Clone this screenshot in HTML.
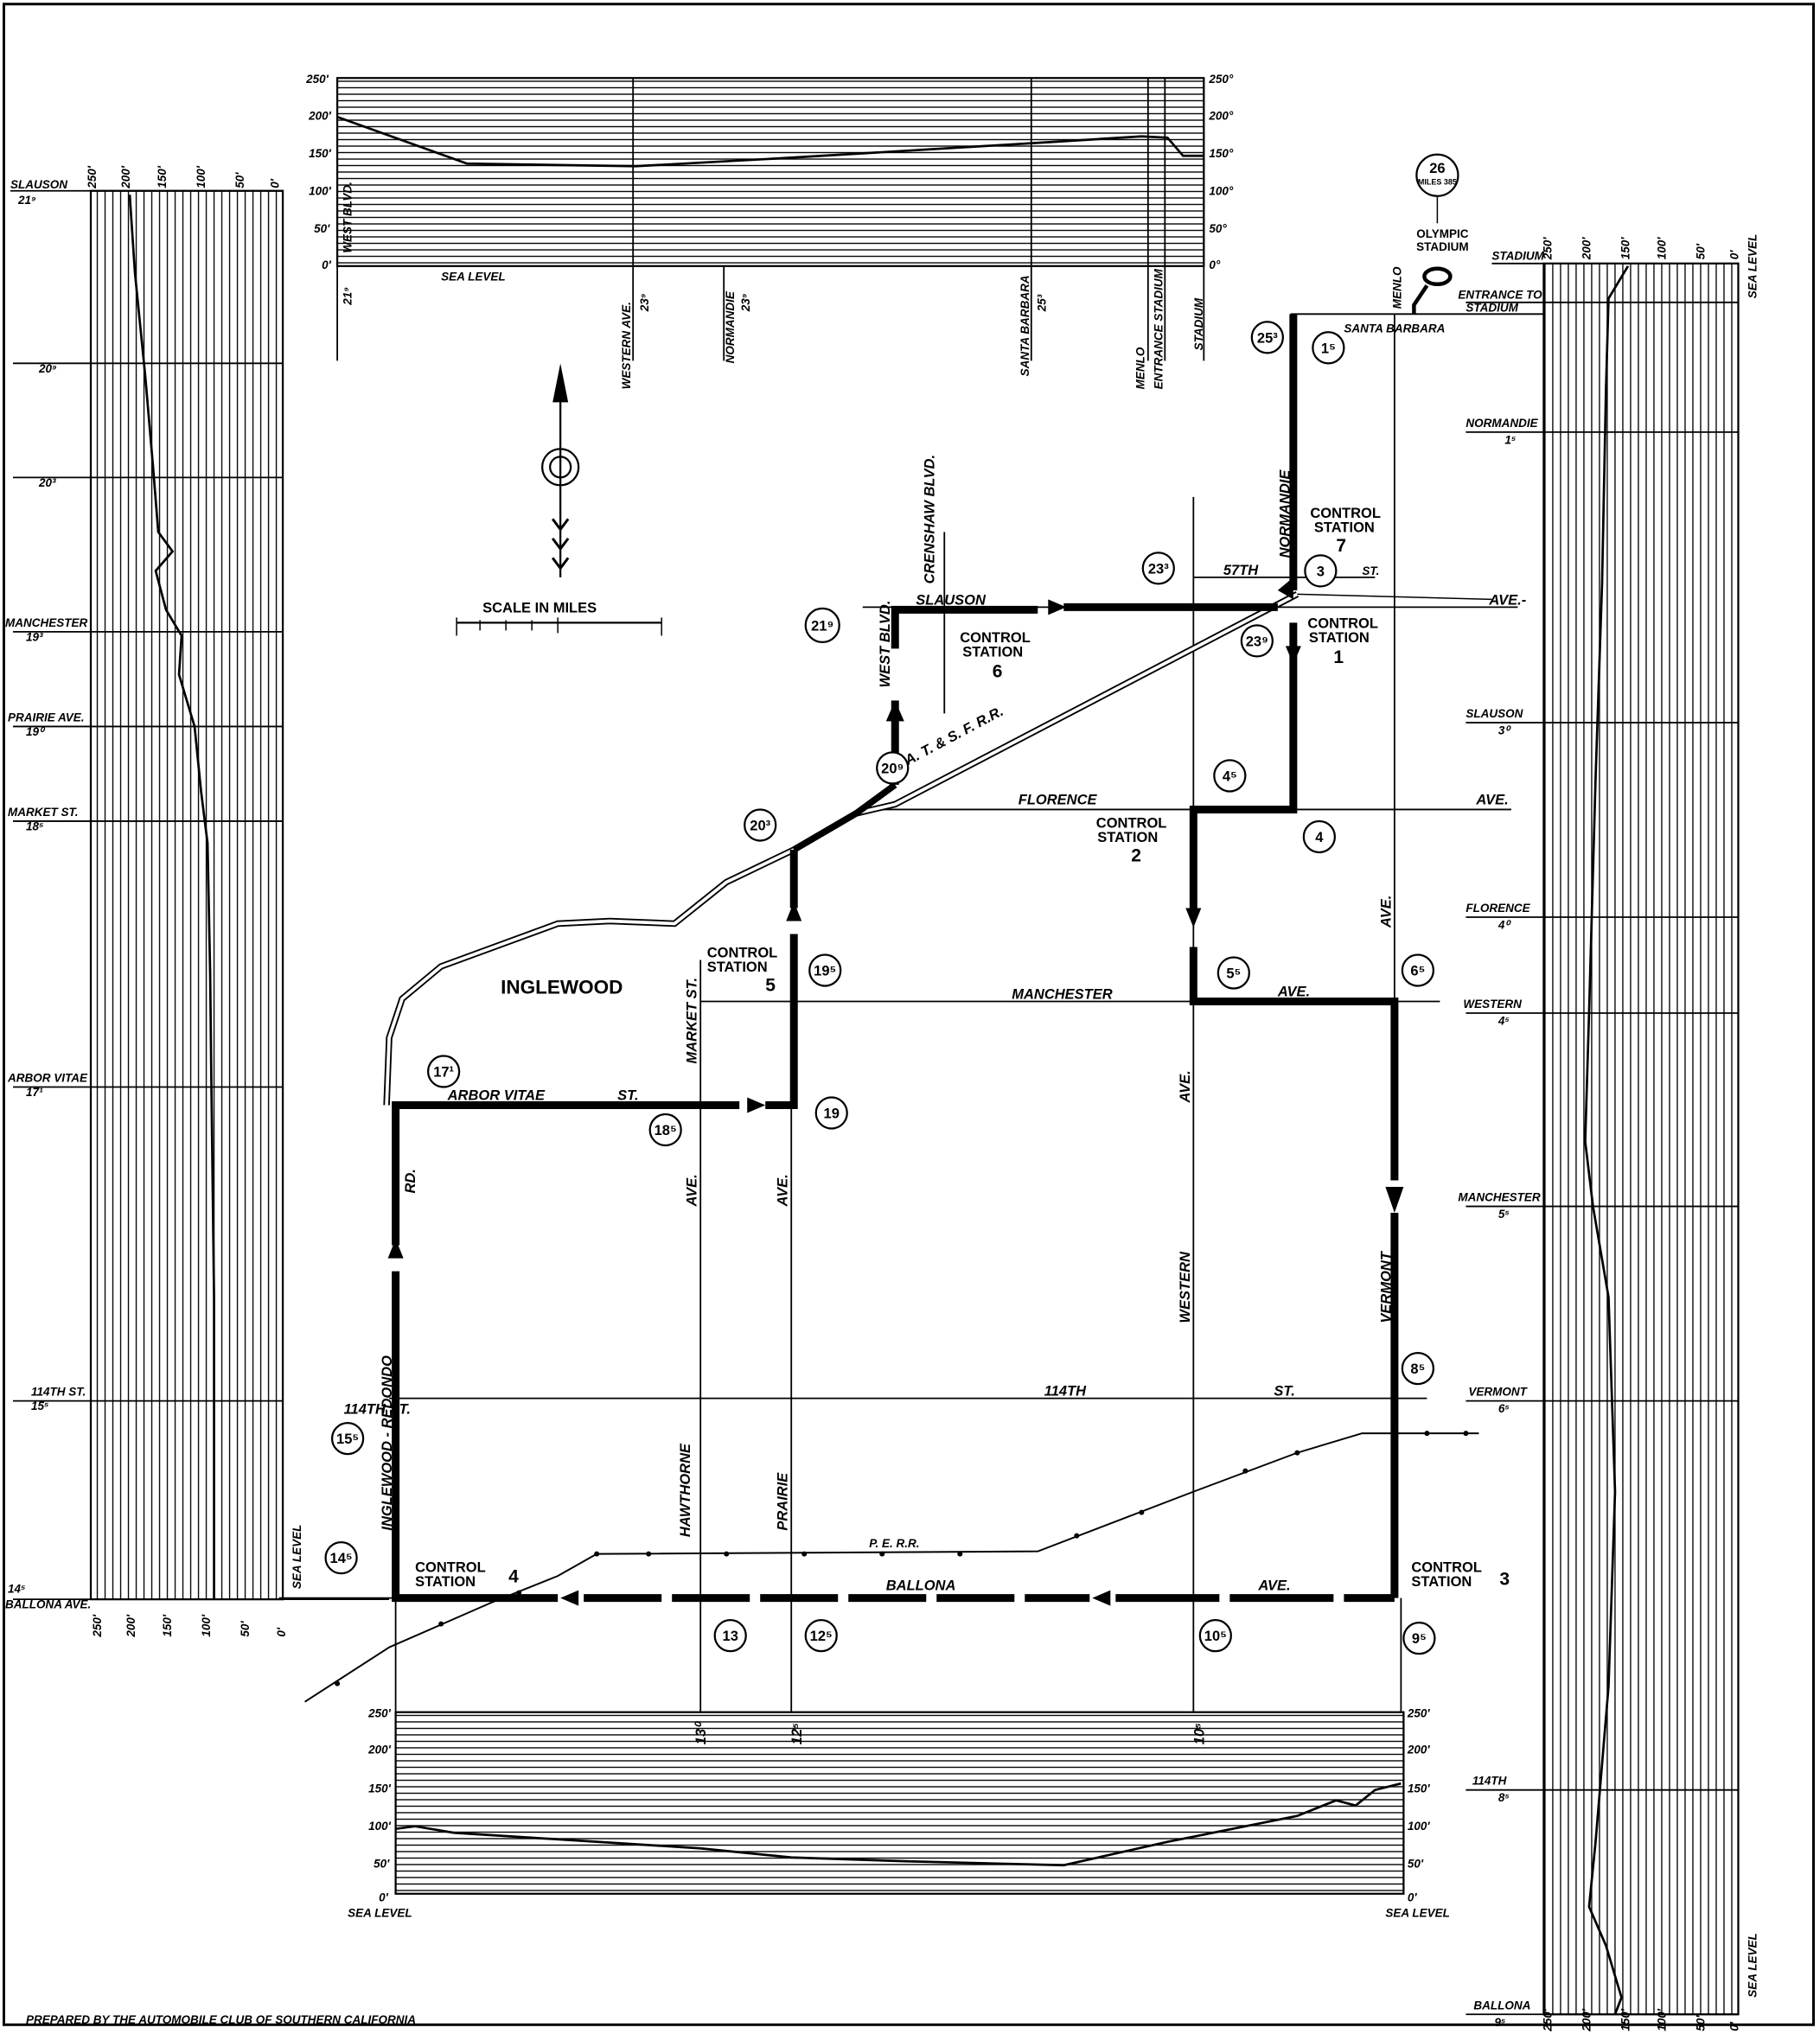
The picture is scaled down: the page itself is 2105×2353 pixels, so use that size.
<!DOCTYPE html>
<html><head><meta charset="utf-8"><style>
html,body{margin:0;padding:0;background:#fff;}
svg{display:block;}
text{font-family:"Liberation Sans",sans-serif;font-weight:bold;fill:#000;}
.s{font-size:9px;font-style:italic;}
.m{font-size:11px;font-style:italic;}
.c{font-size:11px;}
</style></head><body>
<svg width="2105" height="2353" viewBox="0 0 1403 1568" xmlns="http://www.w3.org/2000/svg">
<defs>
<pattern id="vl" width="6" height="10" patternUnits="userSpaceOnUse"><line x1="3" y1="0" x2="3" y2="10" stroke="#000" stroke-width="0.9"/></pattern>
<pattern id="hl" width="10" height="5" patternUnits="userSpaceOnUse"><line x1="0" y1="2.5" x2="10" y2="2.5" stroke="#000" stroke-width="0.9"/></pattern>
</defs>
<rect x="0" y="0" width="1403" height="1568" fill="#fff"/>
<rect x="3" y="3" width="1395" height="1558" fill="none" stroke="#000" stroke-width="2"/>

<!-- left profile -->
<rect x="70" y="147" width="148" height="1086" fill="url(#vl)" stroke="#000" stroke-width="1.5"/>
<g stroke="#000" stroke-width="1.2">
<line x1="8" y1="147" x2="218" y2="147"/><line x1="10" y1="280" x2="218" y2="280"/><line x1="10" y1="368" x2="218" y2="368"/>
<line x1="10" y1="487" x2="218" y2="487"/><line x1="10" y1="560" x2="218" y2="560"/><line x1="10" y1="633" x2="218" y2="633"/>
<line x1="10" y1="838" x2="218" y2="838"/><line x1="10" y1="1080" x2="218" y2="1080"/><line x1="10" y1="1233" x2="300" y2="1233"/>
</g>
<polyline points="100,150 104,210 112,290 118,360 122,410 133,425 120,440 128,470 140,490 138,520 150,560 155,610 160,650 162,750 163,840 165,1000 165,1233" fill="none" stroke="#000" stroke-width="1.8"/>
<g class="s">
<text x="8" y="145">SLAUSON</text><text x="14" y="157">21⁹</text>
<text x="30" y="287">20⁹</text><text x="30" y="375">20³</text>
<text x="4" y="483">MANCHESTER</text><text x="20" y="494">19³</text>
<text x="6" y="556">PRAIRIE AVE.</text><text x="20" y="567">19⁰</text>
<text x="6" y="629">MARKET ST.</text><text x="20" y="640">18⁵</text>
<text x="6" y="834">ARBOR VITAE</text><text x="20" y="845">17¹</text>
<text x="24" y="1076">114TH ST.</text><text x="24" y="1087">15⁵</text>
<text x="6" y="1228">14⁵</text><text x="4" y="1240">BALLONA AVE.</text>
</g>
<g class="s"><text transform="translate(74,145) rotate(-90)">250'</text><text transform="translate(100,145) rotate(-90)">200'</text><text transform="translate(128,145) rotate(-90)">150'</text><text transform="translate(158,145) rotate(-90)">100'</text><text transform="translate(188,145) rotate(-90)">50'</text><text transform="translate(215,145) rotate(-90)">0'</text>
<text transform="translate(78,1262) rotate(-90)">250'</text><text transform="translate(104,1262) rotate(-90)">200'</text><text transform="translate(132,1262) rotate(-90)">150'</text><text transform="translate(162,1262) rotate(-90)">100'</text><text transform="translate(192,1262) rotate(-90)">50'</text><text transform="translate(220,1262) rotate(-90)">0'</text>
<text transform="translate(232,1225) rotate(-90)">SEA LEVEL</text></g>

<!-- top profile -->
<rect x="260" y="60" width="668" height="145" fill="url(#hl)" stroke="#000" stroke-width="1.5"/>
<g stroke="#000" stroke-width="1.2"><line x1="260" y1="205" x2="260" y2="278"/><line x1="488" y1="60" x2="488" y2="278"/><line x1="558" y1="205" x2="558" y2="278"/><line x1="795" y1="60" x2="795" y2="278"/><line x1="885" y1="60" x2="885" y2="278"/><line x1="898" y1="60" x2="898" y2="278"/><line x1="928" y1="205" x2="928" y2="278"/></g>
<polyline points="260,90 360,126 490,128 600,122 800,110 880,105 900,106 912,120 928,120" fill="none" stroke="#000" stroke-width="1.8"/>
<g class="s"><text x="236" y="64">250'</text><text x="238" y="92">200'</text><text x="238" y="121">150'</text><text x="238" y="150">100'</text><text x="242" y="179">50'</text><text x="248" y="207">0'</text>
<text x="932" y="64">250°</text><text x="932" y="92">200°</text><text x="932" y="121">150°</text><text x="932" y="150">100°</text><text x="932" y="179">50°</text><text x="932" y="207">0°</text>
<text x="340" y="216">SEA LEVEL</text>
<text transform="translate(271,235) rotate(-90)">21⁹</text><text transform="translate(271,195) rotate(-90)">WEST BLVD.</text>
<text transform="translate(486,300) rotate(-90)">WESTERN AVE.</text><text transform="translate(500,240) rotate(-90)">23⁹</text>
<text transform="translate(566,280) rotate(-90)">NORMANDIE</text><text transform="translate(578,240) rotate(-90)">23⁹</text>
<text transform="translate(793,290) rotate(-90)">SANTA BARBARA</text><text transform="translate(806,240) rotate(-90)">25³</text>
<text transform="translate(882,300) rotate(-90)">MENLO</text><text transform="translate(896,300) rotate(-90)">ENTRANCE STADIUM</text><text transform="translate(927,270) rotate(-90)">STADIUM</text></g>

<!-- right profile -->
<rect x="1190" y="203" width="150" height="1350" fill="url(#vl)" stroke="#000" stroke-width="1.5"/>
<g stroke="#000" stroke-width="1.2"><line x1="1130" y1="233" x2="1340" y2="233"/><line x1="1130" y1="333" x2="1340" y2="333"/><line x1="1130" y1="557" x2="1340" y2="557"/><line x1="1130" y1="707" x2="1340" y2="707"/><line x1="1130" y1="781" x2="1340" y2="781"/><line x1="1130" y1="930" x2="1340" y2="930"/><line x1="1130" y1="1080" x2="1340" y2="1080"/><line x1="1130" y1="1380" x2="1340" y2="1380"/><line x1="1130" y1="1553" x2="1340" y2="1553"/><line x1="1150" y1="203" x2="1190" y2="203"/></g>
<polyline points="1255,205 1240,230 1238,300 1235,450 1230,600 1225,780 1222,880 1228,930 1240,1000 1245,1150 1240,1300 1230,1420 1225,1470 1238,1500 1250,1540 1245,1553" fill="none" stroke="#000" stroke-width="1.8"/>
<g class="s"><text x="1150" y="200">STADIUM</text><text x="1130" y="329">NORMANDIE</text><text x="1160" y="342">1⁵</text>
<text x="1130" y="553">SLAUSON</text><text x="1155" y="566">3⁰</text><text x="1130" y="703">FLORENCE</text><text x="1155" y="716">4⁰</text>
<text x="1128" y="777">WESTERN</text><text x="1155" y="790">4⁵</text><text x="1124" y="926">MANCHESTER</text><text x="1155" y="939">5⁵</text>
<text x="1132" y="1076">VERMONT</text><text x="1155" y="1089">6⁵</text><text x="1135" y="1376">114TH</text><text x="1155" y="1389">8⁵</text>
<text x="1136" y="1549">BALLONA</text><text x="1152" y="1562">9⁵</text>
<text transform="translate(1196,200) rotate(-90)">250'</text><text transform="translate(1226,200) rotate(-90)">200'</text><text transform="translate(1256,200) rotate(-90)">150'</text><text transform="translate(1284,200) rotate(-90)">100'</text><text transform="translate(1314,200) rotate(-90)">50'</text><text transform="translate(1340,200) rotate(-90)">0'</text><text transform="translate(1354,230) rotate(-90)">SEA LEVEL</text>
<text transform="translate(1196,1566) rotate(-90)">250'</text><text transform="translate(1226,1566) rotate(-90)">200'</text><text transform="translate(1256,1566) rotate(-90)">150'</text><text transform="translate(1284,1566) rotate(-90)">100'</text><text transform="translate(1314,1566) rotate(-90)">50'</text><text transform="translate(1340,1566) rotate(-90)">0'</text><text transform="translate(1354,1540) rotate(-90)">SEA LEVEL</text></g>

<!-- bottom profile -->
<rect x="305" y="1320" width="777" height="140" fill="url(#hl)" stroke="#000" stroke-width="1.5"/>
<polyline points="305,1410 320,1408 350,1413 540,1425 610,1432 700,1435 820,1438 900,1420 1000,1400 1030,1388 1045,1392 1060,1380 1080,1375" fill="none" stroke="#000" stroke-width="1.8"/>
<g class="s"><text x="284" y="1324">250'</text><text x="284" y="1352">200'</text><text x="284" y="1382">150'</text><text x="284" y="1411">100'</text><text x="288" y="1440">50'</text><text x="292" y="1466">0'</text><text x="268" y="1478">SEA LEVEL</text>
<text x="1085" y="1324">250'</text><text x="1085" y="1352">200'</text><text x="1085" y="1382">150'</text><text x="1085" y="1411">100'</text><text x="1085" y="1440">50'</text><text x="1085" y="1466">0'</text><text x="1068" y="1478">SEA LEVEL</text>
<text x="20" y="1560">PREPARED BY THE AUTOMOBILE CLUB OF SOUTHERN CALIFORNIA</text></g>

<!-- thin streets -->
<g stroke="#000" stroke-width="1.2" fill="none">
<line x1="995" y1="242" x2="1190" y2="242"/>
<line x1="1075" y1="242" x2="1075" y2="772"/>
<line x1="665" y1="468" x2="1170" y2="468"/>
<line x1="920" y1="445" x2="1060" y2="445"/>
<line x1="680" y1="624" x2="1165" y2="624"/>
<line x1="920" y1="383" x2="920" y2="1320"/>
<line x1="540" y1="772" x2="1110" y2="772"/>
<line x1="300" y1="1078" x2="1100" y2="1078"/>
<line x1="215" y1="1232" x2="305" y2="1232"/>
<line x1="610" y1="852" x2="610" y2="1320"/>
<line x1="540" y1="740" x2="540" y2="1320"/>
<line x1="305" y1="1232" x2="305" y2="1320"/>
<line x1="1080" y1="1232" x2="1080" y2="1320"/>
<line x1="728" y1="410" x2="728" y2="550"/>
<line x1="690" y1="470" x2="690" y2="480"/>
</g>
<!-- ATSF railroad -->
<g fill="none" stroke="#000">
<path d="M1000,458 L690,620 L660,627 L612,655 L560,680 L520,712 L470,710 L430,712 L340,745 L310,770 L300,800 L298,852" stroke-width="5"/>
<path d="M1000,458 L690,620 L660,627 L612,655 L560,680 L520,712 L470,710 L430,712 L340,745 L310,770 L300,800 L298,852" stroke="#fff" stroke-width="2.5"/>
<path d="M1000,458 L1150,462" stroke-width="1"/>
<!-- PE railroad -->
<polyline points="235,1312 300,1270 380,1235 430,1215 460,1198 800,1196 920,1150 1000,1120 1050,1105 1140,1105" stroke-width="1.3"/>
</g>
<g fill="#000"><circle cx="460" cy="1198" r="2"/><circle cx="500" cy="1198" r="2"/><circle cx="560" cy="1198" r="2"/><circle cx="620" cy="1198" r="2"/><circle cx="680" cy="1198" r="2"/><circle cx="740" cy="1198" r="2"/><circle cx="830" cy="1184" r="2"/><circle cx="880" cy="1166" r="2"/><circle cx="960" cy="1134" r="2"/><circle cx="1000" cy="1120" r="2"/><circle cx="1100" cy="1105" r="2"/><circle cx="1130" cy="1105" r="2"/><circle cx="260" cy="1298" r="2"/><circle cx="340" cy="1252" r="2"/><circle cx="400" cy="1228" r="2"/></g>

<!-- route (thick) -->
<g stroke="#000" stroke-width="6" fill="none" stroke-linejoin="miter">
<polyline points="997,242 997,455"/>
<polyline points="997,480 997,624 920,624 920,700"/>
<polyline points="920,730 920,772 1075,772 1075,910"/>
<polyline points="1075,935 1075,1232"/>
<polyline points="690,605 690,540"/>
<polyline points="820,468 985,468"/>
<polyline points="690,500 690,470 800,470"/>
<polyline points="612,655 612,700"/>
<polyline points="612,720 612,852 590,852"/>
<polyline points="570,852 305,852 305,960"/>
<polyline points="305,980 305,1232 430,1232"/>
<polyline points="450,1232 840,1232" stroke-dasharray="60,8"/>
<polyline points="860,1232 1075,1232" stroke-dasharray="80,8"/>
<polyline points="690,605 660,627 612,655" stroke-width="5"/>
</g>
<!-- arrowheads -->
<g fill="#000">
<polygon points="997,512 991,498 1003,498"/>
<polygon points="920,715 914,700 926,700"/>
<polygon points="1075,935 1068,915 1082,915"/>
<polygon points="690,540 683,556 697,556"/>
<polygon points="612,695 606,710 618,710"/>
<polygon points="822,468 808,462 808,474"/>
<polygon points="590,852 576,846 576,858"/>
<polygon points="305,955 299,970 311,970"/>
<polygon points="432,1232 446,1226 446,1238"/>
<polygon points="842,1232 856,1226 856,1238"/>
<polygon points="997,445 985,455 997,462"/>
</g>

<!-- circles -->
<g fill="#fff" stroke="#000" stroke-width="1.5">
<circle cx="977" cy="260" r="12"/><circle cx="1024" cy="268" r="12"/><circle cx="893" cy="438" r="12"/><circle cx="1018" cy="440" r="12"/>
<circle cx="969" cy="494" r="12"/><circle cx="948" cy="598" r="12"/><circle cx="1017" cy="645" r="12"/><circle cx="634" cy="482" r="13"/>
<circle cx="688" cy="592" r="12"/><circle cx="586" cy="636" r="12"/><circle cx="636" cy="748" r="12"/><circle cx="951" cy="750" r="12"/>
<circle cx="1093" cy="748" r="12"/><circle cx="342" cy="826" r="12"/><circle cx="513" cy="871" r="12"/><circle cx="641" cy="858" r="12"/>
<circle cx="1093" cy="1055" r="12"/><circle cx="268" cy="1109" r="12"/><circle cx="263" cy="1201" r="12"/><circle cx="563" cy="1261" r="12"/>
<circle cx="633" cy="1261" r="12"/><circle cx="937" cy="1261" r="12"/><circle cx="1094" cy="1263" r="12"/><circle cx="1108" cy="135" r="16"/>
<circle cx="432" cy="360" r="14"/><circle cx="432" cy="360" r="8"/>
</g>
<g class="c" text-anchor="middle">
<text x="977" y="264">25³</text><text x="1024" y="272">1⁵</text><text x="893" y="442">23³</text><text x="1018" y="444">3</text>
<text x="969" y="498">23⁹</text><text x="948" y="602">4⁵</text><text x="1017" y="649">4</text><text x="634" y="486">21⁹</text>
<text x="688" y="596">20⁹</text><text x="586" y="640">20³</text><text x="636" y="752">19⁵</text><text x="951" y="754">5⁵</text>
<text x="1093" y="752">6⁵</text><text x="342" y="830">17¹</text><text x="513" y="875">18⁵</text><text x="641" y="862">19</text>
<text x="1093" y="1059">8⁵</text><text x="268" y="1113">15⁵</text><text x="263" y="1205">14⁵</text><text x="563" y="1265">13</text>
<text x="633" y="1265">12⁵</text><text x="937" y="1265">10⁵</text><text x="1094" y="1267">9⁵</text>
<text x="1108" y="133" font-size="11">26</text><text x="1108" y="142" font-size="6">MILES 385</text>
</g>
<!-- stadium -->
<line x1="1108" y1="151" x2="1108" y2="172" stroke="#000"/>
<ellipse cx="1108" cy="213" rx="10" ry="6" fill="#fff" stroke="#000" stroke-width="3"/>
<polyline points="1100,220 1090,235 1090,242" fill="none" stroke="#000" stroke-width="3"/>
<g class="c" text-anchor="middle"><text x="1112" y="183" font-size="9">OLYMPIC</text><text x="1112" y="193" font-size="9">STADIUM</text></g>
<g class="s"><text x="1124" y="230">ENTRANCE TO</text><text x="1130" y="240">STADIUM</text><text x="1036" y="256">SANTA BARBARA</text><text transform="translate(1080,238) rotate(-90)">MENLO</text></g>

<!-- north arrow / scale -->
<g stroke="#000" fill="none" stroke-width="1.5"><line x1="432" y1="285" x2="432" y2="445"/><polyline points="352,480 510,480"/></g>
<polygon points="432,280 426,310 438,310" fill="#000"/>
<g stroke="#000"><line x1="352" y1="476" x2="352" y2="490"/><line x1="370" y1="478" x2="370" y2="486"/><line x1="390" y1="478" x2="390" y2="486"/><line x1="410" y1="478" x2="410" y2="486"/><line x1="430" y1="476" x2="430" y2="488"/><line x1="510" y1="476" x2="510" y2="490"/><path d="M426,400 l6,8 l6,-8 M426,415 l6,8 l6,-8 M426,430 l6,8 l6,-8" fill="none" stroke-width="2"/></g>
<text x="372" y="472" font-size="11">SCALE IN MILES</text>

<!-- labels -->
<g class="m">
<text x="706" y="466">SLAUSON</text><text x="943" y="443">57TH</text><text x="1050" y="443" font-size="9">ST.</text><text x="1148" y="466">AVE.-</text>
<text x="785" y="620">FLORENCE</text><text x="1138" y="620">AVE.</text><text x="780" y="770">MANCHESTER</text><text x="985" y="768">AVE.</text>
<text x="345" y="848">ARBOR VITAE</text><text x="476" y="848">ST.</text><text x="805" y="1076">114TH</text><text x="982" y="1076">ST.</text>
<text x="265" y="1090">114TH ST.</text><text x="683" y="1226">BALLONA</text><text x="970" y="1226">AVE.</text><text x="670" y="1193" font-size="9">P.   E.     R.R.</text>
<text transform="translate(994,430) rotate(-90)">NORMANDIE</text><text transform="translate(720,450) rotate(-90)">CRENSHAW BLVD.</text><text transform="translate(686,530) rotate(-90)">WEST BLVD.</text>
<text transform="translate(1072,715) rotate(-90)">AVE.</text><text transform="translate(1072,1020) rotate(-90)">VERMONT</text><text transform="translate(917,1020) rotate(-90)">WESTERN</text><text transform="translate(917,850) rotate(-90)">AVE.</text>
<text transform="translate(537,820) rotate(-90)">MARKET ST.</text><text transform="translate(537,930) rotate(-90)">AVE.</text><text transform="translate(607,930) rotate(-90)">AVE.</text><text transform="translate(607,1180) rotate(-90)">PRAIRIE</text>
<text transform="translate(532,1185) rotate(-90)">HAWTHORNE</text><text transform="translate(302,1180) rotate(-90)">INGLEWOOD - REDONDO</text><text transform="translate(320,920) rotate(-90)">RD.</text>
<text transform="translate(700,590) rotate(-28)">A. T. &amp; S. F.    R.R.</text>
<text transform="translate(544,1345) rotate(-90)">13⁰</text><text transform="translate(618,1345) rotate(-90)">12⁵</text><text transform="translate(928,1345) rotate(-90)">10⁵</text>
</g>
<g class="c">
<text x="1010" y="399">CONTROL</text><text x="1013" y="410">STATION</text><text x="1030" y="425" font-size="14">7</text>
<text x="1008" y="484">CONTROL</text><text x="1009" y="495">STATION</text><text x="1028" y="511" font-size="14">1</text>
<text x="740" y="495">CONTROL</text><text x="742" y="506">STATION</text><text x="765" y="522" font-size="14">6</text>
<text x="845" y="638">CONTROL</text><text x="846" y="649">STATION</text><text x="872" y="664" font-size="14">2</text>
<text x="545" y="738">CONTROL</text><text x="545" y="749">STATION</text><text x="590" y="764" font-size="14">5</text>
<text x="320" y="1212">CONTROL</text><text x="320" y="1223">STATION</text><text x="392" y="1220" font-size="14">4</text>
<text x="1088" y="1212">CONTROL</text><text x="1088" y="1223">STATION</text><text x="1156" y="1222" font-size="14">3</text>
<text x="386" y="766" font-size="15">INGLEWOOD</text>
</g>
</svg>
</body></html>
